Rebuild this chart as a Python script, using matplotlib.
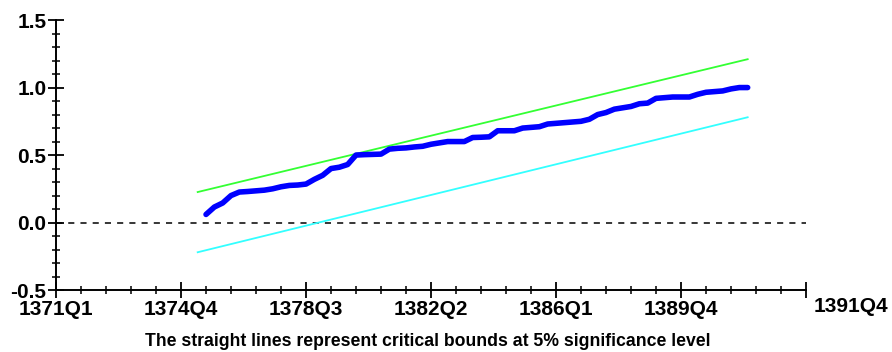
import numpy as np
import matplotlib
matplotlib.use("Agg")
import matplotlib.pyplot as plt
from matplotlib.ticker import MultipleLocator, FixedLocator

plt.rcParams['font.family'] = ['Liberation Sans', 'DejaVu Sans']

# quarters counted from 1371Q1 (t=0)
tick_pos = [0, 15, 30, 45, 60, 75]
tick_labels = ['1371Q1', '1374Q4', '1378Q3', '1382Q2', '1386Q1', '1389Q4']
end_label = '1391Q4'
x_max = 90

# CUSUM of squares, 1375Q3 .. 1391Q4
cusumsq_t = np.arange(18, 84)
cusumsq = [0.06, 0.115, 0.145, 0.20, 0.226, 0.23, 0.235, 0.24, 0.25, 0.265,
           0.275, 0.278, 0.285, 0.32, 0.35, 0.40, 0.41, 0.43, 0.50, 0.503,
           0.505, 0.507, 0.544, 0.55, 0.553, 0.56, 0.565, 0.58, 0.59, 0.60,
           0.60, 0.60, 0.63, 0.632, 0.635, 0.68, 0.68, 0.68, 0.70, 0.705,
           0.71, 0.73, 0.735, 0.74, 0.745, 0.75, 0.765, 0.80, 0.815, 0.84,
           0.85, 0.86, 0.88, 0.885, 0.92, 0.925, 0.93, 0.93, 0.93, 0.95,
           0.965, 0.97, 0.975, 0.99, 1.0, 1.0]

# critical bounds (straight lines), endpoints 1375Q2 and 1391Q4
bound_t = [17, 83]
upper = [0.226, 1.21]
lower = [-0.22, 0.78]

fig = plt.figure(figsize=(8.92, 3.52), dpi=100)
ax = fig.add_axes([0.0628, 0.176, 0.8408, 0.767])

ax.axhline(0, color='black', lw=1.1, ls=(0, (4, 4)))
ax.plot(bound_t, upper, color='#33ff33', lw=1.3)
ax.plot(bound_t, lower, color='#33ffff', lw=1.3)
ax.plot(cusumsq_t, cusumsq, color='#0000ff', lw=4.0, solid_capstyle='round')

ax.set_xlim(0, x_max)
ax.set_ylim(-0.5, 1.5)
ax.xaxis.set_major_locator(FixedLocator(tick_pos + [x_max]))
ax.set_xticklabels(tick_labels + [''])
ax.xaxis.set_minor_locator(MultipleLocator(3))
ax.yaxis.set_major_locator(MultipleLocator(0.5))
ax.yaxis.set_minor_locator(MultipleLocator(0.1))
ax.yaxis.set_major_formatter(matplotlib.ticker.FormatStrFormatter('%.1f'))

for s in ['top', 'right']:
    ax.spines[s].set_visible(False)
for s in ['left', 'bottom']:
    ax.spines[s].set_linewidth(1.4)

ax.tick_params(which='major', direction='inout', length=12, width=1.3,
               labelsize=15, pad=1)
ax.tick_params(which='minor', direction='inout', length=6, width=1.1)
for lab in ax.get_xticklabels() + ax.get_yticklabels():
    lab.set_fontweight('bold')

ax.text(x_max + 0.9, -0.555, end_label, fontsize=15,
        fontweight='bold', ha='left', va='top')

fig.text(0.48, 0.03, 'The straight lines represent critical bounds at 5% significance level',
         ha='center', va='center', fontsize=12.7, fontweight='bold')

fig.savefig('out.png', dpi=100)
